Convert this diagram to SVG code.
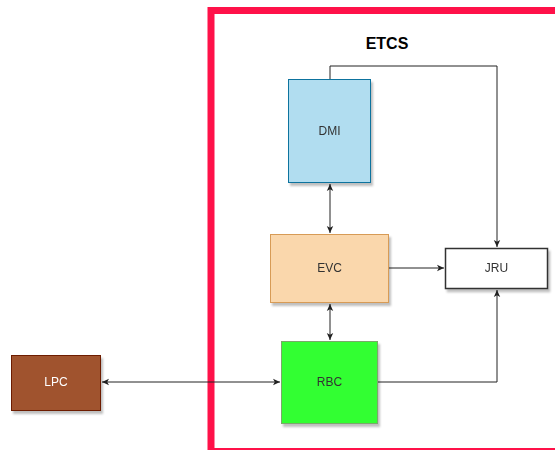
<svg xmlns="http://www.w3.org/2000/svg" width="555" height="450" viewBox="0 0 555 450">
<style>
.lbl{font-family:"Liberation Sans",Arial,sans-serif;font-size:12px;fill:#333;text-anchor:middle;dominant-baseline:central}
.edge{fill:none;stroke:#222;stroke-width:1}
</style>
<defs>
<filter id="sh" x="-10%" y="-10%" width="130%" height="130%">
<feOffset dx="2" dy="3" in="SourceAlpha" result="o"/>
<feGaussianBlur in="o" stdDeviation="1" result="b"/>
<feColorMatrix in="b" type="matrix" values="0 0 0 0 0  0 0 0 0 0  0 0 0 0 0  0 0 0 0.25 0"/>
<feMerge><feMergeNode/><feMergeNode in="SourceGraphic"/></feMerge>
</filter>
<marker id="arr" markerWidth="8" markerHeight="8" refX="7" refY="4" orient="auto-start-reverse" markerUnits="userSpaceOnUse">
<path d="M0,0.8 L7,4 L0,7.2 L1.8,4 Z" fill="#222"/>
</marker>
</defs>
<rect x="0" y="0" width="555" height="450" fill="#fff"/>
<g id="etcs-frame">
<rect x="211" y="10.5" width="360" height="441" fill="none" stroke="#ff1149" stroke-width="7"/>
<text x="387" y="43" style="font-family:'Liberation Sans',Arial,sans-serif;font-size:16px;font-weight:bold;fill:#000;text-anchor:middle;dominant-baseline:central">ETCS</text>
</g>
<g id="connectors">
<path class="edge" d="M330,79 V66 H497 V247" marker-end="url(#arr)"/>
<path class="edge" d="M330,184 V233" marker-start="url(#arr)" marker-end="url(#arr)"/>
<path class="edge" d="M389,268 H444" marker-end="url(#arr)"/>
<path class="edge" d="M330,304 V340" marker-start="url(#arr)" marker-end="url(#arr)"/>
<path class="edge" d="M378,382 H497 V290" marker-end="url(#arr)"/>
<path class="edge" d="M102,382 H280" marker-start="url(#arr)" marker-end="url(#arr)"/>
</g>
<g id="DMI" filter="url(#sh)">
<rect x="288.5" y="79.5" width="82" height="103" fill="#b1ddf0" stroke="#10739e"/>
<text class="lbl" x="329.5" y="131">DMI</text>
</g>
<g id="EVC" filter="url(#sh)">
<rect x="270.5" y="234.5" width="118" height="68" fill="#fad7ac" stroke="#d79b57"/>
<text class="lbl" x="329.5" y="268">EVC</text>
</g>
<g id="JRU" filter="url(#sh)">
<rect x="445.5" y="248.5" width="102" height="40" fill="#fff" stroke="#333" stroke-width="1.5"/>
<text class="lbl" x="496.5" y="268">JRU</text>
</g>
<g id="RBC" filter="url(#sh)">
<rect x="281.5" y="341.5" width="96" height="82" fill="#33ff33" stroke="#7aa86b"/>
<text class="lbl" x="329.5" y="382">RBC</text>
</g>
<g id="LPC" filter="url(#sh)">
<rect x="11.5" y="355.5" width="89" height="55" fill="#a0522d" stroke="#6d1f00"/>
<text class="lbl" x="56" y="382" style="fill:#fff">LPC</text>
</g>
</svg>
